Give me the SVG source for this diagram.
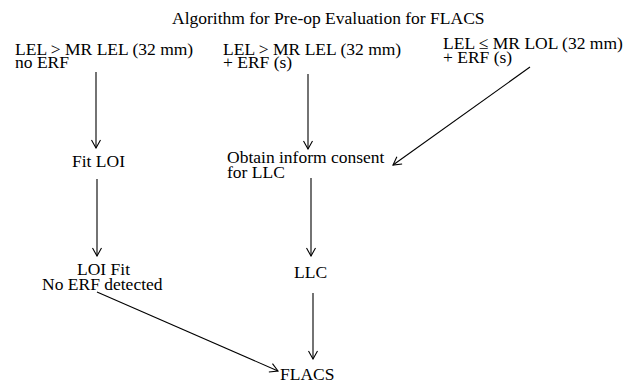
<svg xmlns="http://www.w3.org/2000/svg" width="636" height="384" viewBox="0 0 636 384">
<style>
text{font-family:"Liberation Serif","Times New Roman",serif;font-size:17.5px;fill:#000}
.c{stroke:#000;stroke-width:1.1;fill:none}
</style>
<defs>
<marker id="ah" markerWidth="10" markerHeight="12" refX="9" refY="6" orient="auto" markerUnits="userSpaceOnUse">
<path d="M1,1.5 L9,6 L1,10.5" fill="none" stroke="#000" stroke-width="1.1"/>
</marker>
</defs>
<rect width="636" height="384" fill="#fff"/>
<g id="title"><text x="172" y="24">Algorithm for Pre-op Evaluation for FLACS</text></g>
<g id="n1"><text x="15" y="55">LEL &gt; MR LEL (32 mm)</text><text x="15" y="68">no ERF</text></g>
<g id="n2"><text x="223" y="55">LEL &gt; MR LEL (32 mm)</text><text x="223" y="68">+ ERF (s)</text></g>
<g id="n3"><text x="443" y="49">LEL ≤ MR LOL (32 mm)</text><text x="443" y="62.5">+ ERF (s)</text></g>
<g id="n4"><text x="72" y="167">Fit LOI</text></g>
<g id="n5"><text x="227" y="163">Obtain inform consent</text><text x="227" y="178">for LLC</text></g>
<g id="n6"><text x="77" y="275">LOI Fit</text><text x="42" y="290">No ERF detected</text></g>
<g id="n7"><text x="294" y="278">LLC</text></g>
<g id="n8"><text x="280" y="380">FLACS</text></g>
<g id="connectors" class="c" marker-end="url(#ah)">
<line x1="96" y1="72" x2="96" y2="148" marker-end="url(#ah)"/>
<line x1="308" y1="74" x2="308" y2="149" marker-end="url(#ah)"/>
<line x1="530" y1="67" x2="393" y2="165" marker-end="url(#ah)"/>
<line x1="97" y1="179" x2="97" y2="256" marker-end="url(#ah)"/>
<line x1="311" y1="178" x2="311" y2="256" marker-end="url(#ah)"/>
<line x1="313" y1="293" x2="313" y2="359" marker-end="url(#ah)"/>
<line x1="97" y1="292" x2="278" y2="371" marker-end="url(#ah)"/>
</g>
</svg>
